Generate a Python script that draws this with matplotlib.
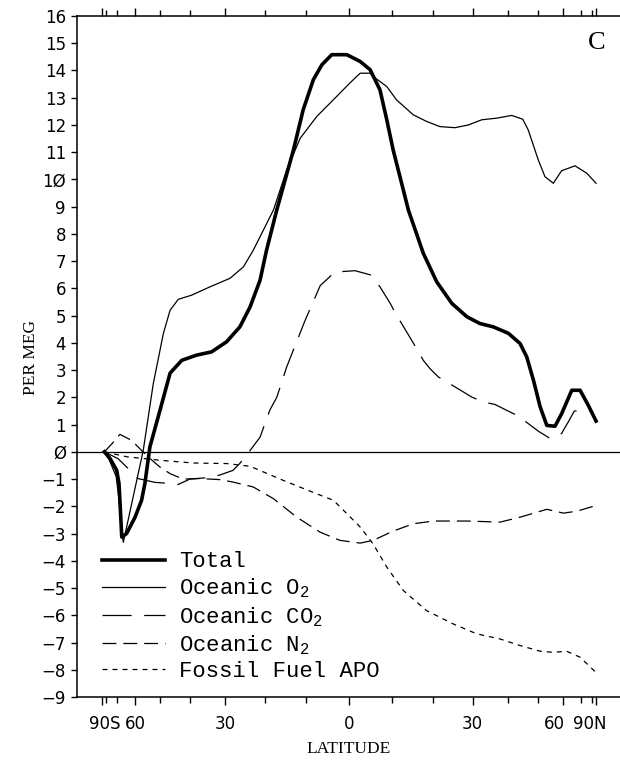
#!/usr/bin/python
# -*- coding:utf-8 -*-

import numpy as np
import matplotlib
matplotlib.use("Agg")
import matplotlib.pyplot as plt
from matplotlib.transforms import ScaledTranslation

# Latitudes (graus) e valores (per meg)
lat_total = [-82, -75.4, -70.1, -68.6, -68.0, -66.9, -64.2, -60.0, -57.1, -55.7,
             -53.7, -49.9, -46.4, -42.6, -38.1, -33.8, -29.7, -26.2, -23.6, -21.1,
             -19.5, -17.0, -13.0, -10.7, -8.3, -6.3, -4.0, -0.5, 2.6, 4.9,
             7.2, 8.8, 10.3, 12.3, 13.9, 17.5, 20.8, 24.6, 28.5, 32.0,
             35.7, 40.2, 43.8, 46.0, 48.3, 50.7, 53.2, 56.5, 59.4, 64.4,
             69.3, 75.6, 90]
total = [0.0, -0.24, -0.68, -1.16, -1.8, -3.13, -3.0, -2.4, -1.78, -1.16,
         0.18, 1.53, 2.89, 3.36, 3.55, 3.67, 4.04, 4.59, 5.32, 6.3,
         7.4, 8.88, 11.08, 12.55, 13.66, 14.21, 14.58, 14.58, 14.33, 14.03,
         13.29, 12.19, 11.08, 9.86, 8.88, 7.29, 6.24, 5.45, 4.96, 4.71,
         4.59, 4.35, 3.98, 3.49, 2.63, 1.65, 0.97, 0.94, 1.40, 2.26,
         2.26, 1.71, 1.13]

lat_o2 = [-82, -76, -70.5, -68.5, -67.2, -66.0, -56.4, -52.4, -48.7, -46.4,
          -43.7, -39.6, -34.2, -28.8, -25.3, -22.8, -17.8, -14.6, -11.4, -7.5,
          -2.9, 0.2, 2.6, 4.9, 6.3, 8.8, 11.1, 15.1, 18.3, 21.6,
          25.4, 28.9, 32.5, 36.7, 41.2, 44.7, 46.5, 50.0, 52.5, 55.8,
          59.4, 66.2, 74.2, 90]
o2 = [0.0, -0.3, -0.9, -1.8, -2.8, -3.32, 0.05, 2.5, 4.35, 5.2,
      5.6, 5.75, 6.06, 6.37, 6.79, 7.4, 8.88, 10.35, 11.51, 12.31,
      13.04, 13.54, 13.9, 13.9, 13.7, 13.41, 12.92, 12.37, 12.13, 11.94,
      11.9, 12.0, 12.19, 12.25, 12.35, 12.21, 11.82, 10.72, 10.10, 9.86,
      10.32, 10.5, 10.23, 9.86]

lat_co2 = [-82, -69.2, -62.4, -58.7, -51.8, -46.4, -43.8, -40.1, -35.1, -31.5,
           -28.0, -26.2, -23.6, -21.1, -18.7, -17.0, -14.6, -12.6, -10.3, -6.7,
           -3.3, 1.4, 4.9, 7.2, 9.6, 11.1, 12.3, 15.9, 17.5, 19.1,
           21.2, 27.1, 29.8, 32.9, 36.2, 42.8, 46.5, 50.0, 54.5, 59.4,
           60.2, 62.6, 65.8, 72.9, 77.3]
co2 = [0.0, -0.25, -0.68, -0.98, -1.12, -1.16, -1.2, -1.0, -0.95, -0.85,
       -0.68, -0.42, 0.05, 0.54, 1.53, 2.0, 3.12, 3.9, 4.8, 6.1,
       6.6, 6.65, 6.5, 6.06, 5.45, 5.02, 4.71, 3.79, 3.36, 3.06,
       2.75, 2.24, 2.01, 1.83, 1.74, 1.34, 1.04, 0.76, 0.49, 0.67,
       0.79, 1.10, 1.5, 1.5, 1.5]

lat_n2 = [-82, -73.6, -68.0, -61.6, -57.1, -53.0, -49.9, -46.4, -42.2, -37.1,
          -31.5, -28.0, -22.8, -17.8, -12.2, -6.7, -2.1, 2.6, 5.6, 10.3,
          15.1, 20.0, 28.5, 37.7, 43.8, 53.2, 60.2, 67.2, 81.5, 90]
n2 = [0.0, 0.3, 0.64, 0.42, 0.05, -0.3, -0.56, -0.8, -1.0, -0.98,
      -1.02, -1.11, -1.29, -1.72, -2.40, -2.95, -3.25, -3.35, -3.25, -2.91,
      -2.64, -2.54, -2.54, -2.58, -2.40, -2.11, -2.25, -2.18, -2.0, -1.9]

lat_ff = [-82, -64.2, -49.9, -39.1, -29.7, -23.6, -15.4, -7.5, -3.6, -0.5,
          2.6, 5.6, 8.8, 12.7, 18.3, 25.0, 31.1, 37.7, 43.8, 50.7,
          55.8, 61.8, 69.3, 90]
ff = [0.0, -0.18, -0.31, -0.41, -0.43, -0.53, -1.05, -1.54, -1.78, -2.27,
      -2.76, -3.38, -4.23, -5.09, -5.83, -6.32, -6.68, -6.87, -7.11, -7.32,
      -7.36, -7.32, -7.54, -8.10]

rotulos = ["Total", "Oceanic O$_2$", "Oceanic CO$_2$", "Oceanic N$_2$",
           "Fossil Fuel APO"]

lat_ticks = [-90, -60, -30, 0, 30, 60, 90]
lat_labels = ["90S", "60", "30", "0", "30", "60", "90N"]
y_ticks = list(range(-9, 17))


def seno(lat):
    # eixo x em seno da latitude (area)
    return np.sin(np.radians(np.asarray(lat, dtype=float)))


def rotulo_y(v):
    s = str(abs(v)).replace("0", "\u00d8")
    if v < 0:
        s = "\u2212" + s
    return s


plt.rcParams["mathtext.fontset"] = "custom"
plt.rcParams["mathtext.rm"] = "Liberation Mono"
plt.rcParams["mathtext.default"] = "rm"
plt.rcParams["lines.scale_dashes"] = False

fig = plt.figure(figsize=(6.2, 7.67), dpi=100)
ax = fig.add_axes([77 / 620, 1 - 697 / 767, 1 - 77 / 620, 681 / 767])

ax.plot(seno(lat_total), total, color="k", lw=2.6, label=rotulos[0])
ax.plot(seno(lat_o2), o2, color="k", lw=0.9, label=rotulos[1])
ax.plot(seno(lat_co2), co2, color="k", lw=0.9, dashes=(21, 9), label=rotulos[2])
ax.plot(seno(lat_n2), n2, color="k", lw=0.9, dashes=(10, 5), label=rotulos[3])
ax.plot(seno(lat_ff), ff, color="k", lw=0.9, dashes=(3.6, 3.6), label=rotulos[4])
ax.axhline(0, color="k", lw=0.9)

ax.set_xlim(-1.101, 1.097)
ax.set_ylim(-9, 16)

ax.set_xticks(seno(lat_ticks))
ax.set_xticklabels(lat_labels, fontsize=12)
ax.set_xticks(seno(np.arange(-80, 81, 10)), minor=True)
ax.set_yticks(y_ticks)
ax.set_yticklabels([rotulo_y(v) for v in y_ticks], fontsize=12)

ax.tick_params(axis="x", which="major", direction="out", length=6, width=1,
               top=True, pad=7)
ax.tick_params(axis="x", which="minor", direction="out", length=4, width=1,
               top=True)
ax.tick_params(axis="y", direction="out", length=4, width=1, pad=4)

# rotulos dos polos deslocados como no original
desloc = [3, 0, 0, 0, 0, -9, -6]
for lab, dx in zip(ax.get_xticklabels(), desloc):
    lab.set_transform(lab.get_transform() +
                      ScaledTranslation(dx / 100.0, 0, fig.dpi_scale_trans))

ax.spines["right"].set_visible(False)
for s in ["left", "top", "bottom"]:
    ax.spines[s].set_linewidth(1.1)

ax.set_xlabel("LATITUDE", fontfamily="Liberation Serif", fontsize=12.5)
ax.set_ylabel("PER MEG", fontfamily="Liberation Serif", fontsize=12.5)
ax.xaxis.set_label_coords(0.501, -0.065)
ax.yaxis.set_label_coords(-0.070, 0.498)

ax.text(0.957, 0.96, "C", transform=ax.transAxes, fontsize=19,
        fontfamily="Liberation Serif", ha="center", va="center")

ax.legend(loc="lower left", bbox_to_anchor=(0.046, 0.022), frameon=False,
          prop={"family": "Liberation Mono", "size": 16},
          handlelength=2.85, handletextpad=0.6, labelspacing=0.2,
          borderpad=0, borderaxespad=0)

plt.savefig("out.png", dpi=100)
print("Feito.")
